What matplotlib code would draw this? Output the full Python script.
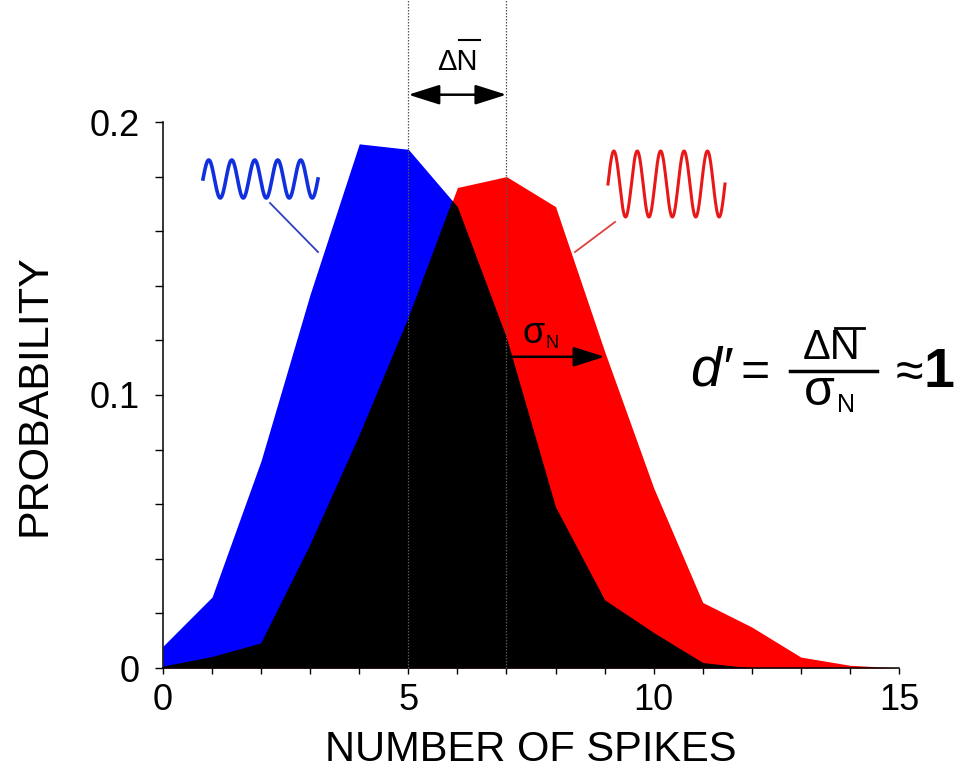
import numpy as np
import matplotlib.pyplot as plt
from matplotlib.lines import Line2D

plt.rcParams['font.family'] = ['Liberation Sans', 'DejaVu Sans']

# spike-count distributions for the two stimuli
spikes = np.arange(16)
p_weak = [0.008, 0.026, 0.076, 0.137, 0.192, 0.190, 0.169, 0.121,
          0.059, 0.025, 0.013, 0.002, 0.0, 0.0, 0.0, 0.0]
p_strong = [0.0005, 0.004, 0.009, 0.045, 0.085, 0.128, 0.176, 0.180,
            0.169, 0.116, 0.066, 0.024, 0.015, 0.004, 0.001, 0.0]

mean_weak = 5.0
mean_strong = 7.0
sigma_tip = 9.0
sigma_level = 0.114

x_ticks = [0, 5, 10, 15]
y_ticks = [0, 0.1, 0.2]
y_tick_labels = ['0', '0.1', '0.2']

W, H = 962, 769
fig = plt.figure(figsize=(W / 100, H / 100), dpi=100)
ax = fig.add_axes([163 / W, 1 - 668 / H, 736 / W, 546 / H])

ax.fill_between(spikes, p_weak, color='#0000ff', lw=0)
red = ax.fill_between(spikes, p_strong, color='#ff0000', lw=0)
# overlap of the two distributions in black
over = ax.fill_between(spikes, p_weak, color='black', lw=0)
over.set_clip_path(red.get_paths()[0], ax.transData)

ax.set_xlim(0, 15)
ax.set_ylim(0, 0.2)
for s in ['top', 'right']:
    ax.spines[s].set_visible(False)
for s in ['left', 'bottom']:
    ax.spines[s].set_linewidth(1.1)

ax.set_xticks(x_ticks)
ax.set_xticks(np.arange(0, 16), minor=True)
ax.set_yticks(y_ticks)
ax.set_yticklabels(y_tick_labels)
ax.set_yticks(np.arange(0, 0.201, 0.02), minor=True)
ax.tick_params(axis='x', which='both', length=4, width=1, pad=7, labelsize=26)
ax.tick_params(axis='y', which='both', length=6, width=1, pad=11, labelsize=26)

ax.set_xlabel('NUMBER OF SPIKES', fontsize=30)
ax.xaxis.set_label_coords(0.5, -0.113)
ax.set_ylabel('PROBABILITY', fontsize=31)
ax.yaxis.set_label_coords(-0.148, 0.5)

# dotted markers at the two means, running up past the axes
for m in [mean_weak, mean_strong]:
    ax.axvline(m, 0, 1.225, clip_on=False, color='#555555', lw=0.9,
               ls=(0, (1.2, 1.2)), zorder=5)

arrow = dict(arrowstyle='<|-|>,head_length=1.2,head_width=0.38',
             mutation_scale=16, color='black', lw=1.8,
             shrinkA=0, shrinkB=0)
ax.annotate('', xy=(mean_strong, 0.210), xytext=(mean_weak, 0.210),
            arrowprops=arrow, annotation_clip=False)
ax.annotate('', xy=(sigma_tip, sigma_level), xytext=(mean_strong, sigma_level),
            arrowprops=dict(arrow, arrowstyle='-|>,head_length=1.2,head_width=0.38'),
            annotation_clip=False)

# overlay in pixel units for the symbols and the formula
ov = fig.add_axes([0, 0, 1, 1], zorder=10)
ov.set_xlim(0, W)
ov.set_ylim(H, 0)
ov.axis('off')

# delta N bar above the plot
ov.text(457, 70, 'ΔN', fontsize=21, ha='center', va='baseline')
ov.add_line(Line2D([459, 480], [40, 40], color='black', lw=1.5))

# sigma label inside the red area
ov.text(523, 343, 'σ', fontsize=26, ha='left', va='baseline')
ov.text(546, 348, 'N', fontsize=13, ha='left', va='baseline')

# stimulus waveforms with leader lines
t = np.linspace(0, 5 * 2 * np.pi, 400)
ov.plot(203 + 115 * t / t[-1], 179 - 19 * np.sin(t), color='#1030e0', lw=2.6)
ov.add_line(Line2D([270, 318], [203, 252], color='#3040c0', lw=1.3))
ov.plot(608 + 117 * t / t[-1], 184 - 33 * np.sin(t), color='#e81818', lw=2.2)
ov.add_line(Line2D([615, 575], [222, 252], color='#e04040', lw=1.3))

# d' = dN / sigma_N ~ 1
ov.text(690, 385, "d\u2032", fontsize=40, style='italic', ha='left', va='baseline')
ov.text(755, 373, '=', fontsize=36, ha='center', va='center')
ov.text(832, 368, 'ΔN', fontsize=30, ha='center', va='bottom')
ov.add_line(Line2D([835, 864], [328, 328], color='black', lw=2))
ov.add_line(Line2D([790, 877], [371, 371], color='black', lw=2.5))
ov.text(804, 369, 'σ', fontsize=36, ha='left', va='top')
ov.text(837, 412, 'N', fontsize=18, ha='left', va='baseline')
ov.text(909, 374, '≈', fontsize=36, ha='center', va='center')
ov.text(924, 387, '1', fontsize=40, fontweight='bold', ha='left', va='baseline')

fig.savefig('out.png', dpi=100)
